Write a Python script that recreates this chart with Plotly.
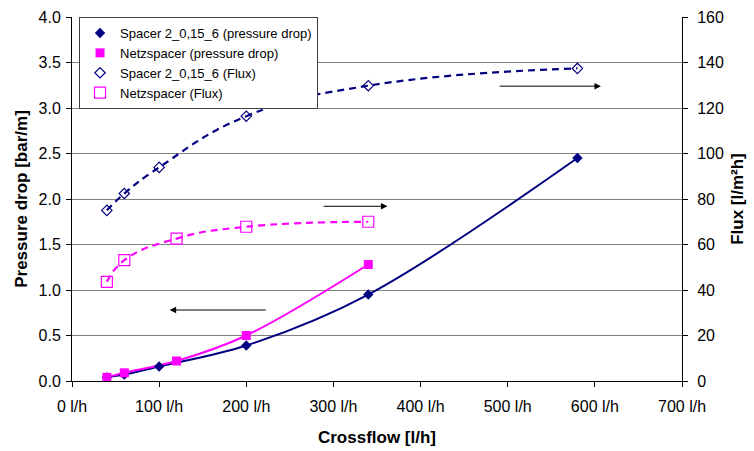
import plotly.graph_objects as go

# ---- data ----
x_spacer = [40, 60, 100, 200, 340, 580]
pd_spacer = [0.04, 0.07, 0.16, 0.39, 0.95, 2.45]
flux_spacer = [75.0, 82.4, 93.9, 116.4, 129.8, 137.4]

x_netz = [40, 60, 120, 200, 340]
pd_netz = [0.04, 0.09, 0.22, 0.50, 1.28]
flux_netz = [43.6, 53.1, 62.6, 67.8, 70.0]

x_ticks = [0, 100, 200, 300, 400, 500, 600, 700]
y_ticks = [0.0, 0.5, 1.0, 1.5, 2.0, 2.5, 3.0, 3.5, 4.0]
y2_ticks = [0, 20, 40, 60, 80, 100, 120, 140, 160]

NAVY = "#000080"
MAG = "#FF00FF"
FONT = "Liberation Sans, Arial, sans-serif"

fig = go.Figure()

# trend/connecting lines (not in legend)
fig.add_trace(go.Scatter(x=x_spacer, y=pd_spacer, mode="lines", line=dict(color=NAVY, width=2, shape="spline", smoothing=1.0),
                         showlegend=False, hoverinfo="skip"))
fig.add_trace(go.Scatter(x=x_netz, y=pd_netz, mode="lines", line=dict(color=MAG, width=2, shape="spline", smoothing=1.0),
                         showlegend=False, hoverinfo="skip"))
fig.add_trace(go.Scatter(x=x_spacer, y=flux_spacer, mode="lines", yaxis="y2",
                         line=dict(color=NAVY, width=2.2, dash="7px,5px", shape="spline", smoothing=1.3),
                         showlegend=False, hoverinfo="skip"))
fig.add_trace(go.Scatter(x=x_netz, y=flux_netz, mode="lines", yaxis="y2",
                         line=dict(color=MAG, width=2.2, dash="7px,5px", shape="spline", smoothing=1.3),
                         showlegend=False, hoverinfo="skip"))

# markers (legend entries)
fig.add_trace(go.Scatter(x=x_spacer, y=pd_spacer, mode="markers", name="Spacer 2_0,15_6 (pressure drop)",
                         marker=dict(symbol="diamond", color=NAVY, size=8)))
fig.add_trace(go.Scatter(x=x_netz, y=pd_netz, mode="markers", name="Netzspacer (pressure drop)",
                         marker=dict(symbol="square", color=MAG, size=9)))
fig.add_trace(go.Scatter(x=x_spacer, y=flux_spacer, mode="markers", name="Spacer 2_0,15_6 (Flux)", yaxis="y2",
                         marker=dict(symbol="diamond-open", color=NAVY, size=8, line=dict(width=1.2))))
fig.add_trace(go.Scatter(x=x_netz, y=flux_netz, mode="markers", name="Netzspacer (Flux)", yaxis="y2",
                         marker=dict(symbol="square-open", color=MAG, size=11, line=dict(width=1.2))))

# arrows
arrows = [
    (224, 0.78, 112, 0.78),
    (287, 1.92, 362, 1.92),
    (489, 3.24, 607, 3.24),
]
for x0, y0, x1, y1 in arrows:
    fig.add_annotation(x=x1, y=y1, ax=x0, ay=y0, xref="x", yref="y", axref="x", ayref="y",
                       showarrow=True, arrowhead=2, arrowsize=1.3, arrowwidth=1, arrowcolor="black", text="")

fig.update_layout(
    width=754, height=451,
    margin=dict(l=72, r=72, t=17, b=70),
    paper_bgcolor="white", plot_bgcolor="white",
    font=dict(family=FONT, size=16, color="black"),
    showlegend=True,
    legend=dict(x=0.0115, y=1.0, xanchor="left", yanchor="top",
                bgcolor="white", bordercolor="#404040", borderwidth=1,
                font=dict(family=FONT, size=13), tracegroupgap=0, itemwidth=30),
    xaxis=dict(range=[0, 700], tickvals=x_ticks, ticktext=[f"{v} l/h" for v in x_ticks],
               showgrid=False, zeroline=False, showline=True, linecolor="black", linewidth=1,
               ticks="outside", ticklen=5, tickcolor="black", ticklabelstandoff=6, automargin=False,
               title=dict(text="<b>Crossflow [l/h]</b>", font=dict(size=17), standoff=16)),
    yaxis=dict(range=[0, 4], tickvals=y_ticks, ticktext=[f"{v:.1f}" for v in y_ticks],
               showgrid=True, gridcolor="#808080", gridwidth=1, zeroline=False,
               showline=True, linecolor="black", linewidth=1, ticks="outside", ticklen=5, tickcolor="black",
               ticklabelstandoff=2, automargin=False,
               title=dict(text="<b>Pressure drop [bar/m]</b>", font=dict(size=17), standoff=6)),
    yaxis2=dict(range=[0, 160], tickvals=y2_ticks, overlaying="y", side="right",
                showgrid=False, zeroline=False, showline=True, linecolor="black", linewidth=1,
                ticks="outside", ticklen=5, tickcolor="black", ticklabelstandoff=6, automargin=False,
                title=dict(text="<b>Flux [l/m²h]</b>", font=dict(size=17), standoff=8)),
)

fig.write_html("out.html")
